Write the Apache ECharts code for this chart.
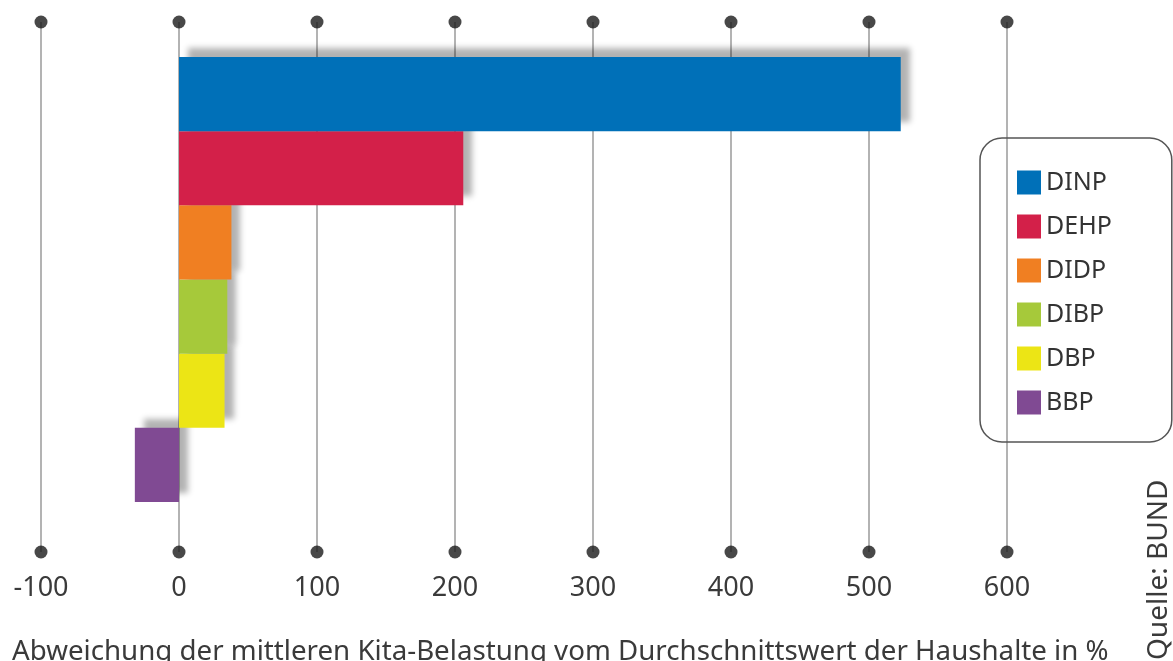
<!DOCTYPE html>
<html>
<head>
<meta charset="utf-8">
<script src="https://cdn.jsdelivr.net/npm/echarts@6/dist/echarts.min.js"></script>
<style>
    html,body{margin:0;padding:0;background:#fff;}
    #main{width:1173px;height:661px;}
</style>
</head>
<body>
<div id="main"></div>
<script>
//类别
let categories = ['DINP', 'DEHP', 'DIDP', 'DIBP', 'DBP', 'BBP']
//数值 (%)
let values = [523, 206, 38, 35, 33, -32]
//颜色
let colors = ['#0070b8', '#d32049', '#f07f22', '#a6c93a', '#ece515', '#804a93']
//刻度
let ticks = [-100, 0, 100, 200, 300, 400, 500, 600]

let fontName = '"Noto Sans", sans-serif'

let myChart = echarts.init(document.getElementById('main'))

//每个类别一个系列，方便图例
let barSeries = categories.map((name, i) => {
    let data = categories.map((c, j) => j === i ? values[i] : null)
    return {
        name: name,
        type: 'bar',
        xAxisIndex: 1,
        yAxisIndex: 1,
        stack: 'all',
        barCategoryGap: 0,
        data: data,
        itemStyle: {
            color: colors[i],
            shadowColor: 'rgba(0,0,0,0.3)',
            shadowBlur: 6,
            shadowOffsetX: 9,
            shadowOffsetY: -9
        },
        z: 10 - i
    }
})

//刻度上下的圆点
let dotData = []
ticks.forEach(t => {
    dotData.push([t, 0])
    dotData.push([t, 1])
})

let option = {
    animation: false,
    grid: [
        {left: 41, right: 166, top: 22, bottom: 109},
        {left: 41, right: 166, top: 57, bottom: 159}
    ],
    xAxis: [
        {
            gridIndex: 0,
            type: 'value',
            min: -100,
            max: 600,
            interval: 100,
            axisLine: {show: false},
            axisTick: {show: false},
            splitLine: {lineStyle: {color: '#9a9a9a', width: 1.5}},
            axisLabel: {
                margin: 23,
                fontSize: 27,
                fontFamily: fontName,
                color: '#3a3a3a'
            }
        },
        {
            gridIndex: 1,
            type: 'value',
            min: -100,
            max: 600,
            show: false
        }
    ],
    yAxis: [
        {gridIndex: 0, type: 'value', min: 0, max: 1, show: false},
        {gridIndex: 1, type: 'category', data: categories, inverse: true, show: false}
    ],
    legend: {
        orient: 'vertical',
        left: 980,
        top: 138,
        padding: [32, 60, 27, 37],
        borderColor: '#555',
        borderWidth: 1.5,
        borderRadius: 22,
        itemWidth: 24,
        itemHeight: 24,
        itemGap: 19,
        icon: 'rect',
        textStyle: {fontSize: 25, fontFamily: fontName, color: '#333'},
        data: categories
    },
    title: {
        text: 'Abweichung der mittleren Kita-Belastung vom Durchschnittswert der Haushalte in %',
        left: 12,
        top: 638,
        padding: 0,
        textStyle: {fontSize: 27.7, fontWeight: 'normal', fontFamily: fontName, color: '#3a3a3a'}
    },
    graphic: [
        {
            type: 'text',
            x: 1145,
            y: 660,
            rotation: Math.PI / 2,
            style: {
                text: 'Quelle: BUND',
                fontSize: 28,
                fontFamily: fontName,
                fill: '#3a3a3a'
            }
        }
    ],
    series: [
        {
            type: 'scatter',
            xAxisIndex: 0,
            yAxisIndex: 0,
            symbolSize: 13,
            itemStyle: {color: '#1a1a1a'},
            data: dotData,
            silent: true
        }
    ].concat(barSeries)
}
myChart.setOption(option)
</script>
</body>
</html>
